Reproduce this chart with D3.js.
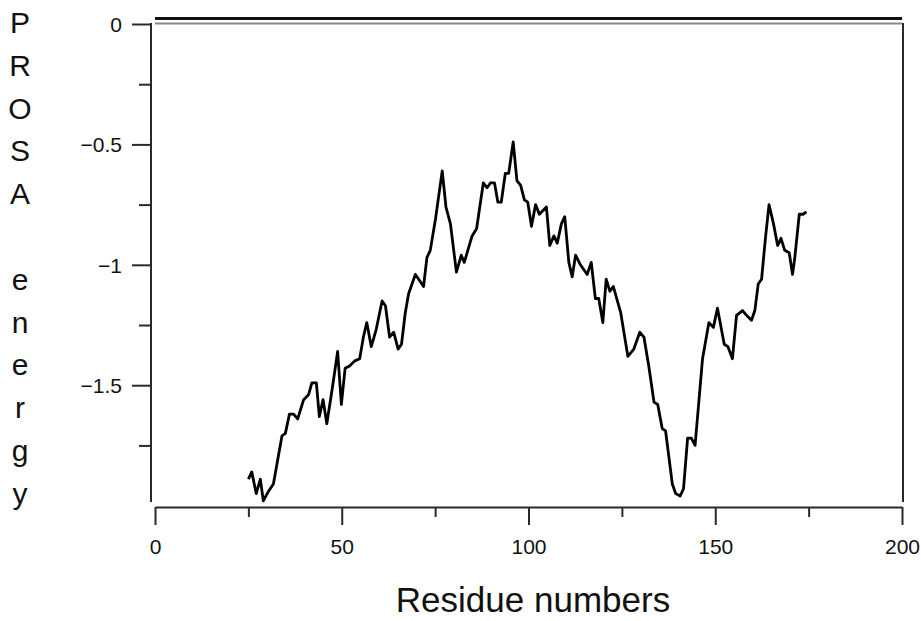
<!DOCTYPE html>
<html>
<head>
<meta charset="utf-8">
<script src="https://cdn.jsdelivr.net/npm/d3@7"></script>
<style>
  body { margin: 0; background: #fff; }
  svg { font-family: "Liberation Sans", Arial, sans-serif; }
</style>
</head>
<body>
<svg width="921" height="621"></svg>
<script>
// residue number / PROSA energy
const residue = [25.0, 25.9, 27.1, 28.2, 29.0, 30.4, 31.7, 34.0, 34.9, 36.0, 37.1, 38.2, 39.8, 41.1, 42.0, 43.2,
    44.0, 45.0, 46.0, 47.4, 48.9, 49.9, 50.9, 52.1, 53.4, 54.8, 55.8, 56.7, 57.9, 59.2, 60.8, 61.7, 62.8, 63.9,
    65.1, 66.0, 67.0, 67.9, 69.7, 70.6, 71.9, 72.8, 73.7, 75.1, 76.9, 77.9, 79.1, 80.7, 82.0, 82.8, 84.9, 86.1,
    87.9, 88.9, 89.8, 90.9, 91.8, 92.7, 93.8, 94.7, 95.9, 96.9, 97.9, 98.9, 99.8, 100.8, 101.9, 102.9, 104.8,
    105.7, 106.8, 107.7, 108.8, 109.7, 110.8, 111.7, 112.6, 113.9, 115.7, 116.8, 117.9, 118.8, 119.9, 120.8,
    121.8, 122.7, 124.7, 126.6, 128.2, 129.8, 130.9, 132.2, 133.6, 134.6, 135.8, 136.7, 138.5, 139.4, 140.6,
    141.5, 142.6, 143.6, 144.6, 146.6, 148.3, 149.5, 150.6, 152.4, 153.4, 154.6, 155.7, 157.3, 158.4, 159.7,
    160.6, 161.5, 162.4, 163.5, 164.4, 165.6, 166.7, 167.6, 168.6, 169.8, 170.7, 171.3, 172.5, 173.5, 174.4]
const energy = [-1.89, -1.86, -1.95, -1.89, -1.98, -1.94, -1.91, -1.71, -1.70, -1.62, -1.62, -1.64, -1.56, -1.54, -1.49, -1.49,
    -1.63, -1.56, -1.66, -1.52, -1.36, -1.58, -1.43, -1.42, -1.40, -1.39, -1.30, -1.24, -1.34, -1.27, -1.15, -1.17, -1.30, -1.28,
    -1.35, -1.33, -1.20, -1.12, -1.04, -1.06, -1.09, -0.97, -0.94, -0.81, -0.61, -0.76, -0.83, -1.03, -0.96, -0.99, -0.88, -0.85,
    -0.66, -0.68, -0.66, -0.66, -0.74, -0.74, -0.62, -0.62, -0.49, -0.65, -0.67, -0.73, -0.74, -0.84, -0.75, -0.79, -0.76,
    -0.92, -0.88, -0.91, -0.83, -0.80, -0.99, -1.05, -0.96, -1.00, -1.04, -0.99, -1.14, -1.14, -1.24, -1.06,
    -1.11, -1.09, -1.20, -1.38, -1.35, -1.28, -1.30, -1.42, -1.57, -1.58, -1.68, -1.69, -1.91, -1.95, -1.96,
    -1.93, -1.72, -1.72, -1.75, -1.39, -1.24, -1.26, -1.18, -1.33, -1.34, -1.39, -1.21, -1.19, -1.21, -1.23,
    -1.19, -1.08, -1.06, -0.88, -0.75, -0.83, -0.92, -0.89, -0.94, -0.95, -1.04, -0.97, -0.79, -0.79, -0.78]

const xTicks = [0, 25, 50, 75, 100, 125, 150, 175, 200]
const xLabels = [0, 50, 100, 150, 200]
const yTicks = [0, -0.25, -0.5, -0.75, -1, -1.25, -1.5, -1.75]
const yLabels = [0, -0.5, -1, -1.5]
const yTitle = ["P", "R", "O", "S", "A", "", "e", "n", "e", "r", "g", "y"]

const svg = d3.select("svg")
const x = d3.scaleLinear().domain([0, 200]).range([155, 902])
const y = d3.scaleLinear().domain([0, -1.985]).range([24, 502])
const axisColor = "#2a2a2a"

// x axis
const xAxis = svg.append("g")
    .attr("transform", "translate(0, 507)")
    .call(d3.axisBottom(x)
        .tickValues(xTicks)
        .tickSizeOuter(0)
        .tickPadding(0)
        .tickFormat(d => xLabels.includes(d) ? d : ""))
xAxis.select(".domain").attr("stroke", axisColor).attr("stroke-width", 2)
xAxis.selectAll(".tick line")
    .attr("stroke", axisColor)
    .attr("stroke-width", 2)
    .attr("y2", d => xLabels.includes(d) ? 18 : 10)
xAxis.selectAll(".tick text")
    .attr("y", 47)
    .attr("dy", 0)
    .style("font-size", "21px")
    .style("font-family", "Liberation Sans, Arial, sans-serif")
    .attr("fill", "#111")

// y axis
const yAxis = svg.append("g")
    .attr("transform", "translate(151, 0)")
    .call(d3.axisLeft(y)
        .tickValues(yTicks)
        .tickSizeOuter(0)
        .tickFormat(d => yLabels.includes(d) ? d3.format("")(d) : ""))
yAxis.select(".domain")
    .attr("d", `M0,${y(0) - 1}V${y.range()[1]}`)
    .attr("stroke", axisColor).attr("stroke-width", 2)
yAxis.selectAll(".tick line")
    .attr("stroke", axisColor)
    .attr("stroke-width", 2)
    .attr("x2", d => yLabels.includes(d) ? -19 : -12)
yAxis.selectAll(".tick text")
    .attr("x", -29)
    .attr("dy", "0.35em")
    .style("font-size", "21px")
    .style("font-family", "Liberation Sans, Arial, sans-serif")
    .attr("fill", "#111")

// frame: top border, zero line and right border
svg.append("line")
    .attr("x1", x(0)).attr("x2", x(200))
    .attr("y1", y(0) - 5.5).attr("y2", y(0) - 5.5)
    .attr("stroke", "#111").attr("stroke-width", 3)
svg.append("line")
    .attr("x1", x(0)).attr("x2", x(200))
    .attr("y1", y(0) - 0.5).attr("y2", y(0) - 0.5)
    .attr("stroke", "#888").attr("stroke-width", 2)
svg.append("line")
    .attr("x1", x(200) + 1).attr("x2", x(200) + 1)
    .attr("y1", y(0) - 1).attr("y2", y.range()[1])
    .attr("stroke", axisColor).attr("stroke-width", 2)

// energy profile
const line = d3.line()
    .x((d, i) => x(residue[i]))
    .y(d => y(d))
svg.append("path")
    .datum(energy)
    .attr("d", line)
    .attr("fill", "none")
    .attr("stroke", "#000")
    .attr("stroke-width", 2.8)
    .attr("stroke-linejoin", "round")

// titles
svg.append("text")
    .attr("x", 533)
    .attr("y", 612)
    .attr("text-anchor", "middle")
    .style("font-size", "35px")
    .attr("fill", "#111")
    .text("Residue numbers")

svg.append("g")
    .selectAll("text")
    .data(yTitle)
    .enter()
    .append("text")
    .attr("x", 20)
    .attr("y", (d, i) => 33 + i * 42.8)
    .attr("text-anchor", "middle")
    .style("font-size", "30px")
    .attr("fill", "#111")
    .text(d => d)
</script>
</body>
</html>
